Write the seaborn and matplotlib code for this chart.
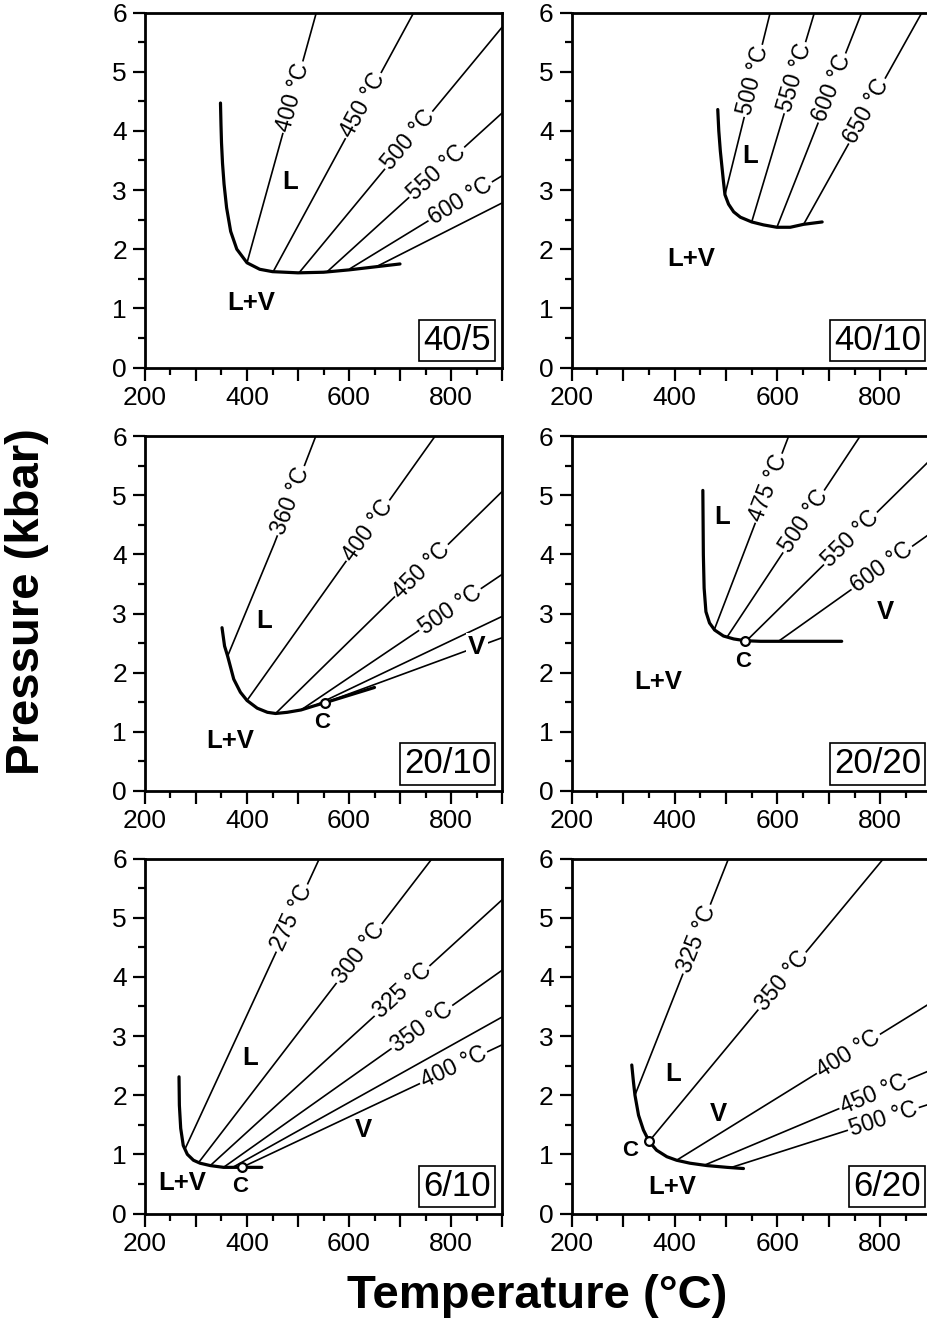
import math

import matplotlib
matplotlib.use('Agg')
import matplotlib.pyplot as plt
import seaborn as sns
from matplotlib.ticker import FixedLocator, FuncFormatter

sns.set_theme(style='ticks')
plt.rcParams['font.family'] = ['Liberation Sans', 'DejaVu Sans']
plt.rcParams['text.color'] = 'black'
plt.rcParams['axes.labelcolor'] = 'black'
plt.rcParams['xtick.color'] = 'black'
plt.rcParams['ytick.color'] = 'black'
plt.rcParams['axes.edgecolor'] = 'black'

# ---- panel 40/5 ----
A_NAME = '40/5'
A_CURVE_T = [348, 349, 350, 352, 355, 360, 368, 380, 400, 425, 450, 500, 550, 600, 650, 700]
A_CURVE_P = [4.47, 4.1, 3.8, 3.45, 3.1, 2.7, 2.3, 2.0, 1.77, 1.66, 1.62, 1.60, 1.61, 1.65, 1.70, 1.75]
A_ISO_TEXT = ['400 °C', '450 °C', '500 °C', '550 °C', '600 °C', '']
A_ISO_T = [[400, 536], [452, 727], [502, 900], [556, 900], [602, 900], [655, 900]]
A_ISO_P = [[1.77, 6.0], [1.63, 6.0], [1.60, 5.75], [1.61, 4.30], [1.67, 3.24], [1.71, 2.78]]
A_LABEL_T = [490, 628, 717, 772, 818, None]
A_REGION_TEXT = ['L', 'L+V']
A_REGION_T = [485, 409]
A_REGION_P = [3.13, 1.09]
A_CRIT_T = []
A_CRIT_P = []

# ---- panel 40/10 ----
B_NAME = '40/10'
B_CURVE_T = [484, 486, 489, 495, 498, 505, 515, 528, 550, 573, 599, 625, 651, 687]
B_CURVE_P = [4.36, 4.0, 3.66, 3.15, 2.92, 2.76, 2.63, 2.54, 2.46, 2.41, 2.37, 2.37, 2.42, 2.46]
B_ISO_TEXT = ['500 °C', '550 °C', '600 °C', '650 °C']
B_ISO_T = [[498, 586], [550, 672], [599, 764], [651, 881]]
B_ISO_P = [[2.92, 6.0], [2.46, 6.0], [2.37, 6.0], [2.42, 6.0]]
B_LABEL_T = [553, 634, 706, 774]
B_REGION_TEXT = ['L', 'L+V']
B_REGION_T = [547, 433]
B_REGION_P = [3.57, 1.83]
B_CRIT_T = []
B_CRIT_P = []

# ---- panel 20/10 ----
C_NAME = '20/10'
C_CURVE_T = [351, 356, 362, 374, 387, 400, 420, 440, 456, 479, 506, 532, 552, 650]
C_CURVE_P = [2.76, 2.45, 2.28, 1.89, 1.67, 1.53, 1.40, 1.33, 1.31, 1.33, 1.37, 1.44, 1.49, 1.75]
C_ISO_TEXT = ['360 °C', '400 °C', '450 °C', '500 °C', '', 'V']
C_ISO_T = [[362, 453, 535], [400, 769], [456, 900], [506, 900], [532, 900], [552, 900]]
C_ISO_P = [[2.28, 4.17, 6.0], [1.53, 6.0], [1.31, 5.06], [1.37, 3.66], [1.44, 2.95], [1.49, 2.59]]
C_LABEL_T = [486, 637, 742, 798, None, 851]
C_REGION_TEXT = ['L', 'L+V', 'C']
C_REGION_T = [433, 368, 548]
C_REGION_P = [2.88, 0.84, 1.16]
C_CRIT_T = [552]
C_CRIT_P = [1.49]

# ---- panel 20/20 ----
D_NAME = '20/20'
D_CURVE_T = [455, 456, 457.5, 461, 468, 478, 495, 515, 537, 567, 725]
D_CURVE_P = [5.08, 3.99, 3.43, 3.03, 2.84, 2.72, 2.62, 2.57, 2.54, 2.53, 2.53]
D_ISO_TEXT = ['475 °C', '500 °C', '550 °C', '600 °C']
D_ISO_T = [[477, 622], [502, 761], [540, 900], [602, 900]]
D_ISO_P = [[2.72, 6.0], [2.60, 6.0], [2.54, 5.62], [2.53, 4.37]]
D_LABEL_T = [583, 651, 742, 803]
D_REGION_TEXT = ['L', 'V', 'L+V', 'C']
D_REGION_T = [492, 810, 369, 534]
D_REGION_P = [4.63, 3.03, 1.85, 2.19]
D_CRIT_T = [537]
D_CRIT_P = [2.54]

# ---- panel 6/10 ----
E_NAME = '6/10'
E_CURVE_T = [266.7, 267.4, 270, 275, 283, 295, 308, 328, 354, 390, 429]
E_CURVE_P = [2.31, 1.83, 1.44, 1.15, 1.00, 0.90, 0.85, 0.81, 0.78, 0.78, 0.78]
E_ISO_TEXT = ['275 °C', '300 °C', '325 °C', '350 °C', '', '400 °C']
E_ISO_T = [[279, 542], [305, 763], [328, 900], [354, 900], [372, 900], [390, 900]]
E_ISO_P = [[1.10, 6.0], [0.86, 6.0], [0.81, 5.30], [0.78, 4.11], [0.78, 3.32], [0.78, 2.85]]
E_LABEL_T = [488, 620, 704, 743, None, 805]
E_REGION_TEXT = ['L', 'V', 'L+V', 'C']
E_REGION_T = [406, 628, 272, 386]
E_REGION_P = [2.62, 1.41, 0.51, 0.45]
E_CRIT_T = [390]
E_CRIT_P = [0.78]

# ---- panel 6/20 ----
F_NAME = '6/20'
F_CURVE_T = [316.8, 320, 323, 330, 339.5, 350.5, 365, 385, 404, 430, 463, 502, 534]
F_CURVE_P = [2.51, 2.23, 2.0, 1.66, 1.41, 1.22, 1.07, 0.96, 0.90, 0.85, 0.81, 0.78, 0.76]
F_ISO_TEXT = ['325 °C', '350 °C', '400 °C', '450 °C', '500 °C']
F_ISO_T = [[323, 505], [350.5, 806.5], [404, 900], [459, 900], [511, 900]]
F_ISO_P = [[2.0, 6.0], [1.22, 6.0], [0.90, 3.57], [0.82, 2.43], [0.78, 1.86]]
F_LABEL_T = [443, 609, 738, 787, 806]
F_REGION_TEXT = ['L', 'V', 'L+V', 'C']
F_REGION_T = [398, 485, 395, 313]
F_REGION_P = [2.35, 1.69, 0.45, 1.07]
F_CRIT_T = [350.5]
F_CRIT_P = [1.22]


def setup_axes(ax):
    ax.set_xlim(200, 900)
    ax.set_ylim(0, 6)
    ax.xaxis.set_major_locator(FixedLocator(range(200, 901, 100)))
    ax.xaxis.set_minor_locator(FixedLocator(range(250, 900, 100)))
    ax.xaxis.set_major_formatter(
        FuncFormatter(lambda v, pos: str(int(v)) if int(v) % 200 == 0 else ''))
    ax.yaxis.set_major_locator(FixedLocator(range(0, 7)))
    ax.yaxis.set_minor_locator(FixedLocator([0.5, 1.5, 2.5, 3.5, 4.5, 5.5]))
    ax.tick_params(which='major', direction='out', length=9, width=1.6,
                   labelsize=19, color='black', labelcolor='black', pad=4)
    ax.tick_params(which='minor', direction='out', length=4.8, width=1.6,
                   color='black')
    for sp in ax.spines.values():
        sp.set_linewidth(2.0)
        sp.set_color('black')
    ax.set_xlabel('')
    ax.set_ylabel('')
    ax.set_facecolor('white')


def draw_panel(ax, name, curve_t, curve_p, iso_text, iso_t, iso_p, label_t,
               region_text, region_t, region_p, crit_t, crit_p):
    setup_axes(ax)
    for txt, ts, ps, lt in zip(iso_text, iso_t, iso_p, label_t):
        sns.lineplot(x=ts, y=ps, ax=ax, color='black', lw=1.2, sort=False,
                     estimator=None, legend=False, zorder=2)
        if lt is None:
            continue
        # segment that holds the label
        k = 0
        while k < len(ts) - 2 and ts[k + 1] < lt:
            k += 1
        frac = (lt - ts[k]) / (ts[k + 1] - ts[k])
        lp = ps[k] + frac * (ps[k + 1] - ps[k])
        d0 = ax.transData.transform((ts[k], ps[k]))
        d1 = ax.transData.transform((ts[k + 1], ps[k + 1]))
        ang = math.degrees(math.atan2(d1[1] - d0[1], d1[0] - d0[0]))
        bold = txt == 'V'
        ax.text(lt, lp, txt, rotation=0 if bold else ang,
                rotation_mode='anchor', ha='center', va='center',
                fontsize=19 if bold else 16.5, color='black',
                fontweight='bold' if bold else 'normal', zorder=4,
                bbox=dict(facecolor='white', edgecolor='none', pad=1.5))
    sns.lineplot(x=curve_t, y=curve_p, ax=ax, color='black', lw=2.3,
                 sort=False, estimator=None, legend=False, zorder=3)
    if crit_t:
        sns.scatterplot(x=crit_t, y=crit_p, ax=ax, s=40, facecolor='white',
                        edgecolor='black', linewidth=1.6, zorder=6,
                        legend=False)
    for txt, t, p in zip(region_text, region_t, region_p):
        ax.text(t, p, txt, ha='center', va='center', color='black',
                fontsize=16 if txt == 'C' else 18.5, fontweight='bold',
                zorder=5)
    ax.text(0.97, 0.03, name, transform=ax.transAxes, ha='right',
            va='bottom', fontsize=25, color='black', zorder=7,
            bbox=dict(boxstyle='square,pad=0.12', facecolor='white',
                      edgecolor='black', linewidth=1.2))


fig = plt.figure(figsize=(9.28, 13.28), dpi=100)
fig.patch.set_facecolor('white')

lx, lw = 145 / 928, 357 / 928
rx, rw = 571.7 / 928, 360 / 928
h = 355 / 1328
rows = [(1328 - 367.5) / 1328, (1328 - 791) / 1328, (1328 - 1213.5) / 1328]

ax_a = fig.add_axes([lx, rows[0], lw, h])
ax_b = fig.add_axes([rx, rows[0], rw, h])
ax_c = fig.add_axes([lx, rows[1], lw, h])
ax_d = fig.add_axes([rx, rows[1], rw, h])
ax_e = fig.add_axes([lx, rows[2], lw, h])
ax_f = fig.add_axes([rx, rows[2], rw, h])

for ax in (ax_a, ax_b, ax_c, ax_d, ax_e, ax_f):
    setup_axes(ax)

draw_panel(ax_a, A_NAME, A_CURVE_T, A_CURVE_P, A_ISO_TEXT, A_ISO_T, A_ISO_P,
           A_LABEL_T, A_REGION_TEXT, A_REGION_T, A_REGION_P, A_CRIT_T, A_CRIT_P)
draw_panel(ax_b, B_NAME, B_CURVE_T, B_CURVE_P, B_ISO_TEXT, B_ISO_T, B_ISO_P,
           B_LABEL_T, B_REGION_TEXT, B_REGION_T, B_REGION_P, B_CRIT_T, B_CRIT_P)
draw_panel(ax_c, C_NAME, C_CURVE_T, C_CURVE_P, C_ISO_TEXT, C_ISO_T, C_ISO_P,
           C_LABEL_T, C_REGION_TEXT, C_REGION_T, C_REGION_P, C_CRIT_T, C_CRIT_P)
draw_panel(ax_d, D_NAME, D_CURVE_T, D_CURVE_P, D_ISO_TEXT, D_ISO_T, D_ISO_P,
           D_LABEL_T, D_REGION_TEXT, D_REGION_T, D_REGION_P, D_CRIT_T, D_CRIT_P)
draw_panel(ax_e, E_NAME, E_CURVE_T, E_CURVE_P, E_ISO_TEXT, E_ISO_T, E_ISO_P,
           E_LABEL_T, E_REGION_TEXT, E_REGION_T, E_REGION_P, E_CRIT_T, E_CRIT_P)
draw_panel(ax_f, F_NAME, F_CURVE_T, F_CURVE_P, F_ISO_TEXT, F_ISO_T, F_ISO_P,
           F_LABEL_T, F_REGION_TEXT, F_REGION_T, F_REGION_P, F_CRIT_T, F_CRIT_P)

fig.text(27 / 928, 1 - 602 / 1328, 'Pressure (kbar)', rotation=90,
         ha='center', va='center', fontsize=34, fontweight='bold',
         color='black')
fig.text(537 / 928, 1 - 1296 / 1328, 'Temperature (°C)', ha='center',
         va='center', fontsize=34, fontweight='bold', color='black')

fig.savefig('out.png', dpi=100, facecolor='white')
